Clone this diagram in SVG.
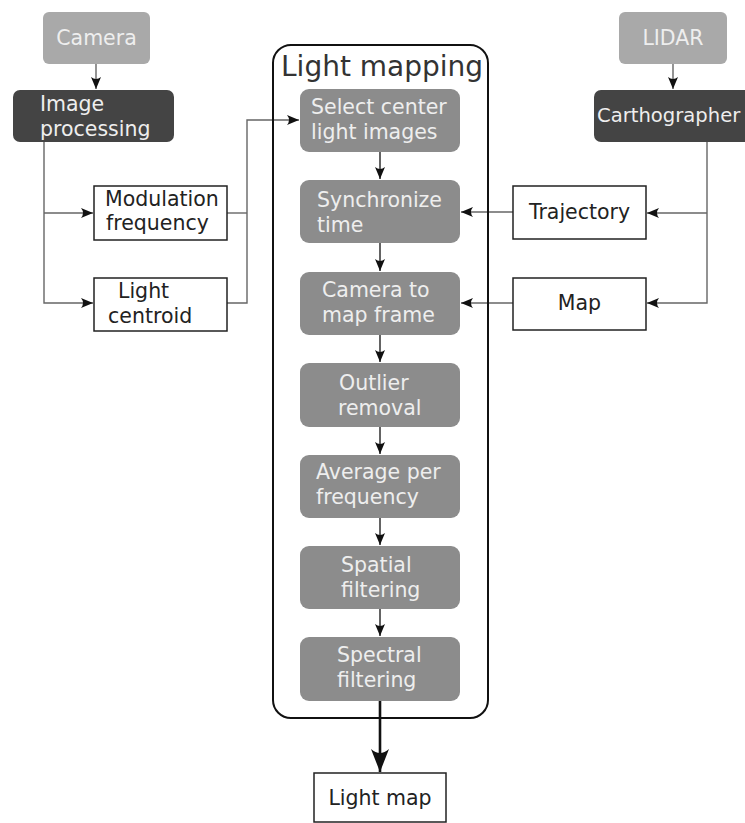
<svg xmlns="http://www.w3.org/2000/svg" width="745" height="823" viewBox="0 0 745 823">
  <style>
    text { font-family: "DejaVu Sans", "Liberation Sans", sans-serif; font-size: 20.5px; }
    text.title { font-size: 28px; fill: #333333; }
    text.tight { font-size: 19.6px; }
    .src { fill: #a9a9a9; }
    .proc { fill: #444444; }
    .step { fill: #8c8c8c; }
    .data { fill: #ffffff; stroke: #222222; stroke-width: 1.5; }
    .light { fill: #eeeeee; }
    .dark { fill: #222222; }
    .wire { fill: none; stroke: #666666; stroke-width: 1.4; }
    .flow { fill: none; stroke: #222222; stroke-width: 1.4; }
  </style>
  <defs>
    <marker id="arrow" markerUnits="userSpaceOnUse" viewBox="-13 -6 14 12" refX="0" refY="0" markerWidth="14" markerHeight="12" orient="auto">
      <path d="M0,0 L-12,-5 Q-8,0 -12,5 Z" fill="#111111"/>
    </marker>
    <marker id="bigArrow" markerUnits="userSpaceOnUse" viewBox="-24 -11 25 22" refX="0" refY="0" markerWidth="25" markerHeight="22" orient="auto">
      <path d="M0,0 L-23,-9 Q-15,0 -23,9 Z" fill="#111111"/>
    </marker>
  </defs>
  <rect width="745" height="823" fill="#ffffff"/>

  <!-- connectors -->
  <g id="connectors">
    <line class="wire" x1="96" y1="64" x2="96" y2="89" marker-end="url(#arrow)"/>
    <line class="wire" x1="673" y1="64" x2="673" y2="89" marker-end="url(#arrow)"/>
    <!-- image processing outputs -->
    <path class="wire" d="M44,142 V303 H93" marker-end="url(#arrow)"/>
    <line class="wire" x1="44" y1="213" x2="93" y2="213" marker-end="url(#arrow)"/>
    <!-- camera data into the light mapping pipeline -->
    <line class="wire" x1="227" y1="213" x2="247" y2="213"/>
    <path class="wire" d="M227,303 H247 V120 H299" marker-end="url(#arrow)"/>
    <!-- carthographer outputs -->
    <path class="wire" d="M707,142 V303 H647" marker-end="url(#arrow)"/>
    <line class="wire" x1="707" y1="213" x2="647" y2="213" marker-end="url(#arrow)"/>
    <line class="wire" x1="513" y1="212" x2="461" y2="212" marker-end="url(#arrow)"/>
    <line class="wire" x1="513" y1="303" x2="461" y2="303" marker-end="url(#arrow)"/>
    <!-- pipeline steps -->
    <line class="flow" x1="380" y1="152" x2="380" y2="179" marker-end="url(#arrow)"/>
    <line class="flow" x1="380" y1="243" x2="380" y2="271" marker-end="url(#arrow)"/>
    <line class="flow" x1="380" y1="335" x2="380" y2="362" marker-end="url(#arrow)"/>
    <line class="flow" x1="380" y1="427" x2="380" y2="454" marker-end="url(#arrow)"/>
    <line class="flow" x1="380" y1="518" x2="380" y2="545" marker-end="url(#arrow)"/>
    <line class="flow" x1="380" y1="609" x2="380" y2="636" marker-end="url(#arrow)"/>
    <line x1="380" y1="701" x2="380" y2="772" stroke="#111111" stroke-width="2.6" marker-end="url(#bigArrow)"/>
  </g>

  <!-- light mapping container -->
  <g id="light-mapping">
    <rect x="273" y="45" width="215" height="673" rx="18" fill="none" stroke="#111111" stroke-width="2"/>
    <text class="title" x="281" y="76">Light mapping</text>
  </g>

  <g id="camera">
    <rect class="src" x="43" y="12" width="107" height="52" rx="6"/>
    <text class="light" x="96.5" y="45" text-anchor="middle">Camera</text>
  </g>
  <g id="image-processing">
    <rect class="proc" x="13" y="90" width="161" height="52" rx="7"/>
    <text class="light" x="40" y="111">Image</text>
    <text class="light" x="40" y="136">processing</text>
  </g>
  <g id="modulation-frequency">
    <rect class="data" x="94" y="186" width="133" height="54"/>
    <text class="dark" x="105" y="206">Modulation</text>
    <text class="dark" x="106" y="230">frequency</text>
  </g>
  <g id="light-centroid">
    <rect class="data" x="94" y="278" width="133" height="53"/>
    <text class="dark" x="118" y="298">Light</text>
    <text class="dark" x="108" y="323">centroid</text>
  </g>

  <g id="lidar">
    <rect class="src" x="619" y="12" width="108" height="52" rx="6"/>
    <text class="light" x="673" y="45" text-anchor="middle">LIDAR</text>
  </g>
  <g id="carthographer">
    <rect class="proc" x="594" y="90" width="160" height="52" rx="7"/>
    <text class="light tight" x="597" y="122">Carthographer</text>
  </g>
  <g id="trajectory">
    <rect class="data" x="513" y="186" width="133" height="53"/>
    <text class="dark" x="579.5" y="219" text-anchor="middle">Trajectory</text>
  </g>
  <g id="map">
    <rect class="data" x="513" y="278" width="133" height="52"/>
    <text class="dark" x="579.5" y="310" text-anchor="middle">Map</text>
  </g>

  <g id="select-center">
    <rect class="step" x="300" y="89" width="160" height="63" rx="9"/>
    <text class="light" x="311" y="114">Select center</text>
    <text class="light" x="311" y="139">light images</text>
  </g>
  <g id="synchronize-time">
    <rect class="step" x="300" y="180" width="160" height="63" rx="9"/>
    <text class="light" x="317" y="207">Synchronize</text>
    <text class="light" x="317" y="232">time</text>
  </g>
  <g id="camera-to-map-frame">
    <rect class="step" x="300" y="272" width="160" height="63" rx="9"/>
    <text class="light" x="322" y="297">Camera to</text>
    <text class="light" x="322" y="322">map frame</text>
  </g>
  <g id="outlier-removal">
    <rect class="step" x="300" y="363" width="160" height="64" rx="9"/>
    <text class="light" x="339" y="390">Outlier</text>
    <text class="light" x="338" y="415">removal</text>
  </g>
  <g id="average-per-frequency">
    <rect class="step" x="300" y="455" width="160" height="63" rx="9"/>
    <text class="light" x="316" y="479">Average per</text>
    <text class="light" x="316" y="504">frequency</text>
  </g>
  <g id="spatial-filtering">
    <rect class="step" x="300" y="546" width="160" height="63" rx="9"/>
    <text class="light" x="341" y="572">Spatial</text>
    <text class="light" x="341" y="597">filtering</text>
  </g>
  <g id="spectral-filtering">
    <rect class="step" x="300" y="637" width="160" height="64" rx="9"/>
    <text class="light" x="337" y="662">Spectral</text>
    <text class="light" x="337" y="687">filtering</text>
  </g>

  <g id="light-map">
    <rect class="data" x="314" y="773" width="132" height="49"/>
    <text class="dark" x="380" y="805" text-anchor="middle">Light map</text>
  </g>
</svg>
